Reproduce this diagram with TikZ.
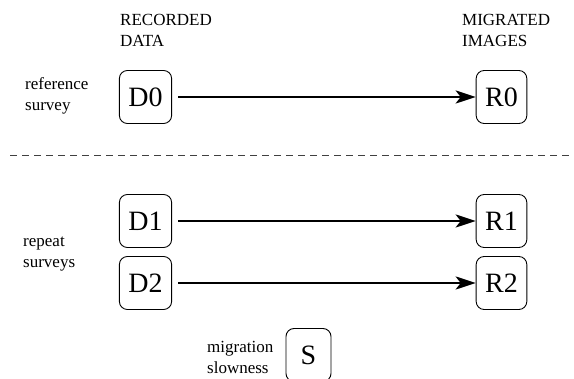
\documentclass[tikz,border=0pt]{standalone}
\usepackage{fontspec}
\setmainfont{Liberation Serif}
\usetikzlibrary{arrows.meta,positioning}

\begin{document}
\begin{tikzpicture}[x=1pt,y=-1pt,on grid,>={Stealth[length=20pt,width=13pt,inset=5pt]},
      box/.style={draw,rounded corners=8pt,line width=0.9pt,minimum width=45pt,
        minimum height=53pt,inner xsep=9pt,font=\rmfamily\fontsize{28}{30}\selectfont},
      lbl/.style={align=left,anchor=west,inner sep=0pt,font=\rmfamily\fontsize{17}{21}\selectfont},
      flow/.style={->,line width=2.8pt,shorten <=6pt}]

    \useasboundingbox (0,0) rectangle (574,379);

    \node[box] (D0) at (145.5,97) {D0};
    \node[box] (R0) [right=356pt of D0] {R0};
    \node[box] (D1) [below=124pt of D0] {D1};
    \node[box] (R1) [right=356pt of D1] {R1};
    \node[box] (D2) [below=62pt of D1] {D2};
    \node[box] (R2) [right=356pt of D2] {R2};
    \node[box] (S) at (308.5,355) {S};

    \node[lbl] (rec) at (120,30) {RECORDED\\DATA};
    \node[lbl] (mig) at (462,30) {MIGRATED\\IMAGES};
    \node[lbl] (ref) at (25,96) {reference\\survey};
    \node[lbl] (rep) at (23,254) {repeat\\surveys};
    \node[lbl] (slow) at (207,357) {migration\\slowness};

    \coordinate (cutL) at (10,155);
    \coordinate (cutR) at (574,155);
    \draw[black!75,line width=0.8pt,dash pattern=on 7pt off 5pt] (cutL) -- (cutR);

    \draw[flow] (D0) -- (R0);
    \draw[flow] (D1) -- (R1);
    \draw[flow] (D2) -- (R2);
  \end{tikzpicture}
\end{document}
